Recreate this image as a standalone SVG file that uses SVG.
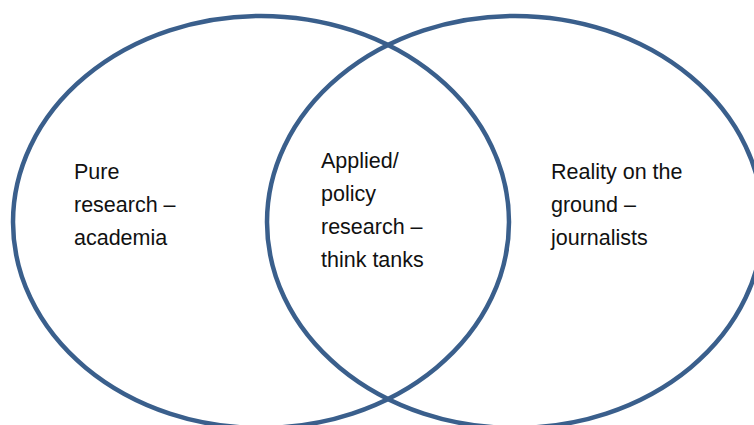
<svg xmlns="http://www.w3.org/2000/svg" width="754" height="425" viewBox="0 0 754 425">
<style>
.ring{fill:none;stroke:#3A5F8C;stroke-width:4.5}
.lbl{font-family:"Liberation Sans",Arial,sans-serif;font-size:21.5px;fill:#111}
</style>
<rect width="754" height="425" fill="#fff"/>
<g id="left-set">
<ellipse class="ring" cx="261" cy="222" rx="248" ry="206"/>
<text class="lbl"><tspan x="74" y="179">Pure</tspan><tspan x="74" y="212">research –</tspan><tspan x="74" y="245">academia</tspan></text>
</g>
<g id="right-set">
<ellipse class="ring" cx="515" cy="222" rx="248" ry="206"/>
<text class="lbl"><tspan x="551" y="179">Reality on the</tspan><tspan x="551" y="212">ground –</tspan><tspan x="551" y="245">journalists</tspan></text>
</g>
<g id="overlap">
<text class="lbl"><tspan x="321" y="168">Applied/</tspan><tspan x="321" y="201">policy</tspan><tspan x="321" y="234">research –</tspan><tspan x="321" y="267">think tanks</tspan></text>
</g>
<g id="connectors"/>
</svg>
